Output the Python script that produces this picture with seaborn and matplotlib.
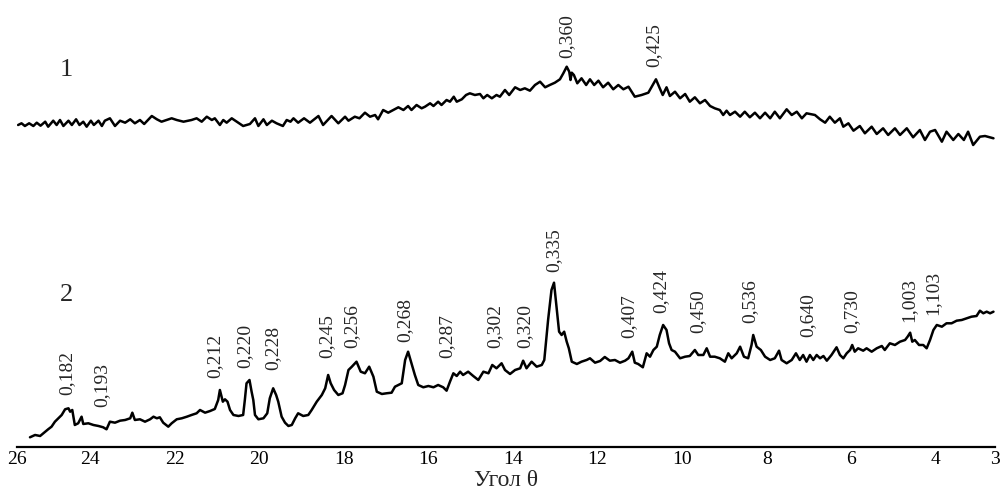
import matplotlib
matplotlib.use("Agg")
import matplotlib.pyplot as plt
import seaborn as sns
import pandas as pd

# --- curve 1 (top) : angle, intensity (arbitrary units) ---
theta_1 = [25.70, 25.62, 25.54, 25.44, 25.34, 25.26, 25.17, 25.06, 24.99, 24.87, 24.79, 24.71, 24.63,
           24.51, 24.43, 24.33, 24.25, 24.16, 24.08, 23.98, 23.91, 23.80, 23.72, 23.65, 23.53, 23.41,
           23.29, 23.17, 23.05, 22.94, 22.82, 22.72, 22.54, 22.42, 22.31, 22.19, 22.07, 21.95, 21.79,
           21.60, 21.48, 21.36, 21.24, 21.12, 21.05, 20.93, 20.85, 20.77, 20.65, 20.53, 20.38, 20.22,
           20.10, 20.02, 19.90, 19.82, 19.70, 19.59, 19.44, 19.35, 19.26, 19.19, 19.08, 18.94, 18.80,
           18.60, 18.49, 18.29, 18.13, 17.97, 17.89, 17.74, 17.63, 17.50, 17.38, 17.26, 17.19, 17.07,
           16.95, 16.83, 16.71, 16.59, 16.48, 16.40, 16.28, 16.16, 16.08, 15.96, 15.88, 15.77, 15.69,
           15.57, 15.49, 15.40, 15.33, 15.21, 15.11, 15.02, 14.90, 14.78, 14.70, 14.61, 14.50, 14.39,
           14.31, 14.19, 14.09, 13.95, 13.83, 13.72, 13.60, 13.48, 13.36, 13.24, 13.13, 13.01, 12.89,
           12.81, 12.73, 12.67, 12.64, 12.61, 12.56, 12.48, 12.38, 12.27, 12.18, 12.08, 11.98, 11.87,
           11.75, 11.63, 11.51, 11.39, 11.27, 11.12, 10.96, 10.80, 10.72, 10.62, 10.54, 10.46, 10.37,
           10.29, 10.17, 10.05, 9.93, 9.82, 9.70, 9.58, 9.46, 9.34, 9.23, 9.11, 9.03, 8.95, 8.87, 8.75,
           8.63, 8.52, 8.40, 8.28, 8.16, 8.04, 7.92, 7.81, 7.69, 7.53, 7.41, 7.29, 7.17, 7.06, 6.86,
           6.74, 6.62, 6.51, 6.39, 6.27, 6.19, 6.07, 5.95, 5.80, 5.68, 5.52, 5.40, 5.25, 5.13, 4.97,
           4.85, 4.69, 4.54, 4.38, 4.26, 4.14, 4.02, 3.86, 3.75, 3.59, 3.47, 3.34, 3.24, 3.12, 2.96,
           2.84, 2.64]
inten_1 = [322, 323.7, 321, 323.7, 321, 324.3, 321.3, 325.3, 320.3, 326.3, 322, 327, 321,
           326.3, 322, 327.7, 322, 325.3, 320.3, 326.3, 322, 326.3, 321, 326.3, 328.7, 321,
           326.3, 324.3, 327.7, 323.7, 327, 323, 331, 327.7, 325.3, 327, 328.7, 327, 325.3,
           327, 328.7, 325.3, 330.3, 327, 328.7, 322, 327, 324.3, 328.7, 325.3, 321, 323,
           328.7, 321, 327.7, 322, 326.3, 323.7, 321, 327, 325.3, 328.7, 324.3, 328.7, 324.3,
           331, 322, 331, 323.7, 330.3, 326.3, 330.3, 328.7, 334.3, 330.3, 332, 327.7, 337,
           334.3, 337, 339.7, 337, 341, 337, 342, 338.7, 340.3, 343.7, 341, 345.3, 342,
           347, 345.3, 350.3, 345.3, 347.7, 352, 353.7, 352, 353, 348.7, 352, 348.7, 352,
           350.3, 357, 352, 359.7, 357, 358.7, 356.3, 362, 365.3, 359.7, 362, 364.3, 367.7,
           373.7, 380.3, 375.3, 367, 374.3, 372, 363.7, 368.7, 362, 367.7, 362, 366.3, 359.7,
           364.3, 357.7, 362, 357.7, 360.3, 350.3, 352, 354.3, 360.3, 367.7, 359.7, 352, 359.7,
           351, 355.3, 348.7, 353, 345.3, 349.7, 343.7, 347, 341, 338.7, 337, 332, 336.3, 332, 335.3,
           330.3, 335.3, 329.7, 334.3, 328.7, 334.3, 328.7, 335.3, 328.7, 337.7, 332, 335.3, 328.7, 333.7, 332,
           327.7, 324.3, 330.3, 324.3, 328.7, 320.3, 323.7, 316.3, 321, 313.7, 320.3, 313, 318.7, 312, 318.7,
           312, 318.7, 309.7, 317, 307, 315.3, 317, 305.3, 315.3, 307, 313, 307, 315.3, 302, 310.3,
           311, 308.7]

# --- curve 2 (bottom) ---
theta_2 = [25.42, 25.30, 25.18, 25.06, 24.99, 24.91, 24.83, 24.75, 24.67, 24.59, 24.51, 24.47, 24.42,
           24.36, 24.28, 24.20, 24.16, 24.04, 23.92, 23.80, 23.69, 23.61, 23.53, 23.41, 23.29, 23.17,
           23.05, 23.00, 22.94, 22.82, 22.70, 22.58, 22.50, 22.42, 22.35, 22.27, 22.15, 22.07, 21.95,
           21.83, 21.71, 21.60, 21.48, 21.40, 21.28, 21.16, 21.05, 20.97, 20.93, 20.86, 20.81, 20.75,
           20.69, 20.61, 20.49, 20.38, 20.34, 20.30, 20.23, 20.18, 20.14, 20.10, 20.02, 19.90, 19.81,
           19.75, 19.67, 19.60, 19.55, 19.47, 19.39, 19.31, 19.23, 19.15, 19.08, 18.96, 18.84, 18.76,
           18.64, 18.52, 18.44, 18.37, 18.31, 18.23, 18.13, 18.03, 17.97, 17.89, 17.81, 17.70, 17.60,
           17.50, 17.40, 17.30, 17.22, 17.10, 16.99, 16.87, 16.79, 16.63, 16.55, 16.48, 16.40, 16.32,
           16.24, 16.12, 16.00, 15.88, 15.77, 15.65, 15.57, 15.49, 15.41, 15.33, 15.25, 15.18, 15.06,
           14.94, 14.82, 14.70, 14.58, 14.49, 14.39, 14.27, 14.19, 14.07, 13.95, 13.83, 13.76, 13.68,
           13.56, 13.44, 13.32, 13.26, 13.17, 13.09, 13.03, 12.97, 12.91, 12.85, 12.79, 12.73, 12.68,
           12.61, 12.49, 12.38, 12.26, 12.18, 12.06, 11.94, 11.83, 11.71, 11.59, 11.47, 11.35, 11.27,
           11.18, 11.12, 11.04, 10.93, 10.84, 10.76, 10.68, 10.60, 10.53, 10.45, 10.37, 10.31, 10.25,
           10.17, 10.05, 9.93, 9.82, 9.70, 9.62, 9.50, 9.42, 9.34, 9.23, 9.11, 8.99, 8.91, 8.83, 8.71,
           8.63, 8.54, 8.44, 8.36, 8.32, 8.24, 8.14, 8.04, 7.92, 7.81, 7.71, 7.65, 7.53, 7.41, 7.31,
           7.22, 7.14, 7.06, 6.98, 6.90, 6.82, 6.74, 6.66, 6.58, 6.47, 6.35, 6.27, 6.19, 6.11, 6.03,
           5.98, 5.92, 5.84, 5.72, 5.64, 5.52, 5.40, 5.28, 5.21, 5.09, 4.97, 4.85, 4.73, 4.67, 4.61,
           4.56, 4.50, 4.40, 4.30, 4.22, 4.14, 4.06, 3.98, 3.86, 3.75, 3.63, 3.51, 3.39, 3.27, 3.16,
           3.04, 2.96, 2.88, 2.80, 2.72, 2.64]
inten_2 = [9.7, 12, 11, 15.3, 17.7, 20.3, 25.3, 28.7, 32, 37.7, 38.7, 35.3, 37,
           22, 23.7, 30.3, 23, 23.7, 22, 21, 19.7, 17.7, 25.3, 24.3, 26.3, 27,
           28.7, 34.3, 27, 27.7, 25.3, 27.7, 30.3, 28.7, 29.7, 24.3, 20.3, 23.7, 27.7,
           28.7, 30.3, 32, 33.7, 37, 34.3, 36, 38, 47, 57, 45.3, 47.7, 45.3,
           37, 32, 31, 32, 47, 63.7, 67, 55.3, 47, 32, 27.7, 28.7, 33.7,
           48.7, 58.7, 52, 45.3, 30.3, 24.3, 21, 22, 28.7, 33.7, 31, 32, 37,
           45.3, 52, 58.7, 72, 63.7, 57, 52, 53.7, 62, 77, 80.3, 85.3, 75.3,
           73.7, 80.3, 70.3, 55.3, 53, 53.7, 54.3, 60.3, 63.7, 87, 95.3, 83.7, 72,
           62, 59.7, 61, 59.7, 62, 59.7, 56.3, 65.3, 73.7, 71, 75.3, 72, 75.3,
           71, 67, 75.3, 73.7, 82, 78.7, 83.7, 77, 73, 77, 78.7, 86.3, 78.7,
           85.3, 80.3, 82, 87, 127, 157, 164.3, 140.3, 115.3, 112, 115.3, 105.3, 98.7,
           85.3, 83, 85.3, 87, 88.7, 84.3, 86, 90, 86.3, 87, 84.3, 86.3, 88.7,
           95.3, 84.3, 83, 79.7, 93.7, 90.3, 97, 100.3, 112, 122, 117, 103.7, 97,
           95.3, 88.7, 90.3, 91, 97, 92, 92, 98.7, 90.3, 90.3, 88.7, 85.3, 93.7, 88.7, 93.7,
           100.3, 90.3, 88.7, 102, 112, 100.3, 97, 90.3, 87, 88.7, 96.3, 87, 83.7, 87, 93.7,
           87, 92, 85.3, 92, 87, 92, 88.7, 91, 86.3, 92, 99.7, 92, 88.7, 93.7, 97,
           102, 95.3, 98.7, 96.3, 98.7, 95.3, 98.7, 101, 97, 103.7, 102, 105.3, 107, 110.3, 114.3,
           105.3, 107, 102, 102, 98.7, 107, 117, 122, 120.3, 123.7, 123.7, 126.3, 127, 128.7, 130.3,
           131, 136.3, 133.7, 135.3, 133.7, 135.3]

# --- peak annotations (interplanar distances) ---
peaks_1 = ["0,360", "0,425"]
peaks_1_theta = [12.73, 10.68]
peaks_1_level = [389, 380]

peaks_2 = ["0,182", "0,193", "0,212", "0,220", "0,228", "0,245", "0,256", "0,268", "0,287",
           "0,302", "0,320", "0,335", "0,407", "0,424", "0,450", "0,536", "0,640", "0,730",
           "1,003", "1,103"]
peaks_2_theta = [24.55, 23.72, 21.05, 20.34, 19.67, 18.40, 17.81, 16.55, 15.57,
                 14.43, 13.72, 13.03, 11.27, 10.50, 9.62, 8.40, 7.02, 5.99,
                 4.63, 4.08]
peaks_2_level = [52, 40, 69, 79, 77, 89, 99, 105, 89,
                 99, 99, 175, 109, 134, 114, 124, 110, 114,
                 125, 132]

# axis ticks (end ticks sit at the ends of the drawn axis)
tick_pos = [25.72, 24, 22, 20, 18, 16, 14, 12, 10, 8, 6, 4, 2.605]
tick_labels = ["26", "24", "22", "20", "18", "16", "14", "12", "10", "8", "6", "4", "3"]

sns.set_style("white")
plt.rcParams["font.family"] = ["Liberation Serif", "DejaVu Serif"]

df1 = pd.DataFrame({"theta": theta_1, "I": inten_1})
df2 = pd.DataFrame({"theta": theta_2, "I": inten_2})

fig = plt.figure(figsize=(10.05, 4.95), dpi=100)
ax = fig.add_axes([0.0172, 0.097, 0.9728, 0.903])

sns.lineplot(data=df1, x="theta", y="I", color="black", lw=1.8, estimator=None, sort=False, ax=ax)
sns.lineplot(data=df2, x="theta", y="I", color="black", lw=1.8, estimator=None, sort=False, ax=ax)

for txt, t, lv in zip(peaks_1, peaks_1_theta, peaks_1_level):
    ax.text(t, lv, txt, rotation=90, ha="center", va="bottom", fontsize=14)
for txt, t, lv in zip(peaks_2, peaks_2_theta, peaks_2_level):
    ax.text(t, lv, txt, rotation=90, ha="center", va="bottom", fontsize=14)

ax.text(24.55, 377, "1", ha="center", va="center", fontsize=19)
ax.text(24.55, 152, "2", ha="center", va="center", fontsize=19)

ax.set_xlim(25.72, 2.605)
ax.set_ylim(0, 447)
ax.set_xticks(tick_pos)
ax.set_xticklabels(tick_labels, fontsize=14)
ax.set_yticks([])
ax.set_xlabel("Угол θ", fontsize=17, labelpad=1)
ax.set_ylabel("")
for side in ["top", "left", "right"]:
    ax.spines[side].set_visible(False)
ax.spines["bottom"].set_linewidth(1.6)
ax.spines["bottom"].set_color("black")
ax.tick_params(axis="x", direction="in", length=7.5, width=1.6, pad=3, colors="black")

fig.savefig("out.png", dpi=100)
